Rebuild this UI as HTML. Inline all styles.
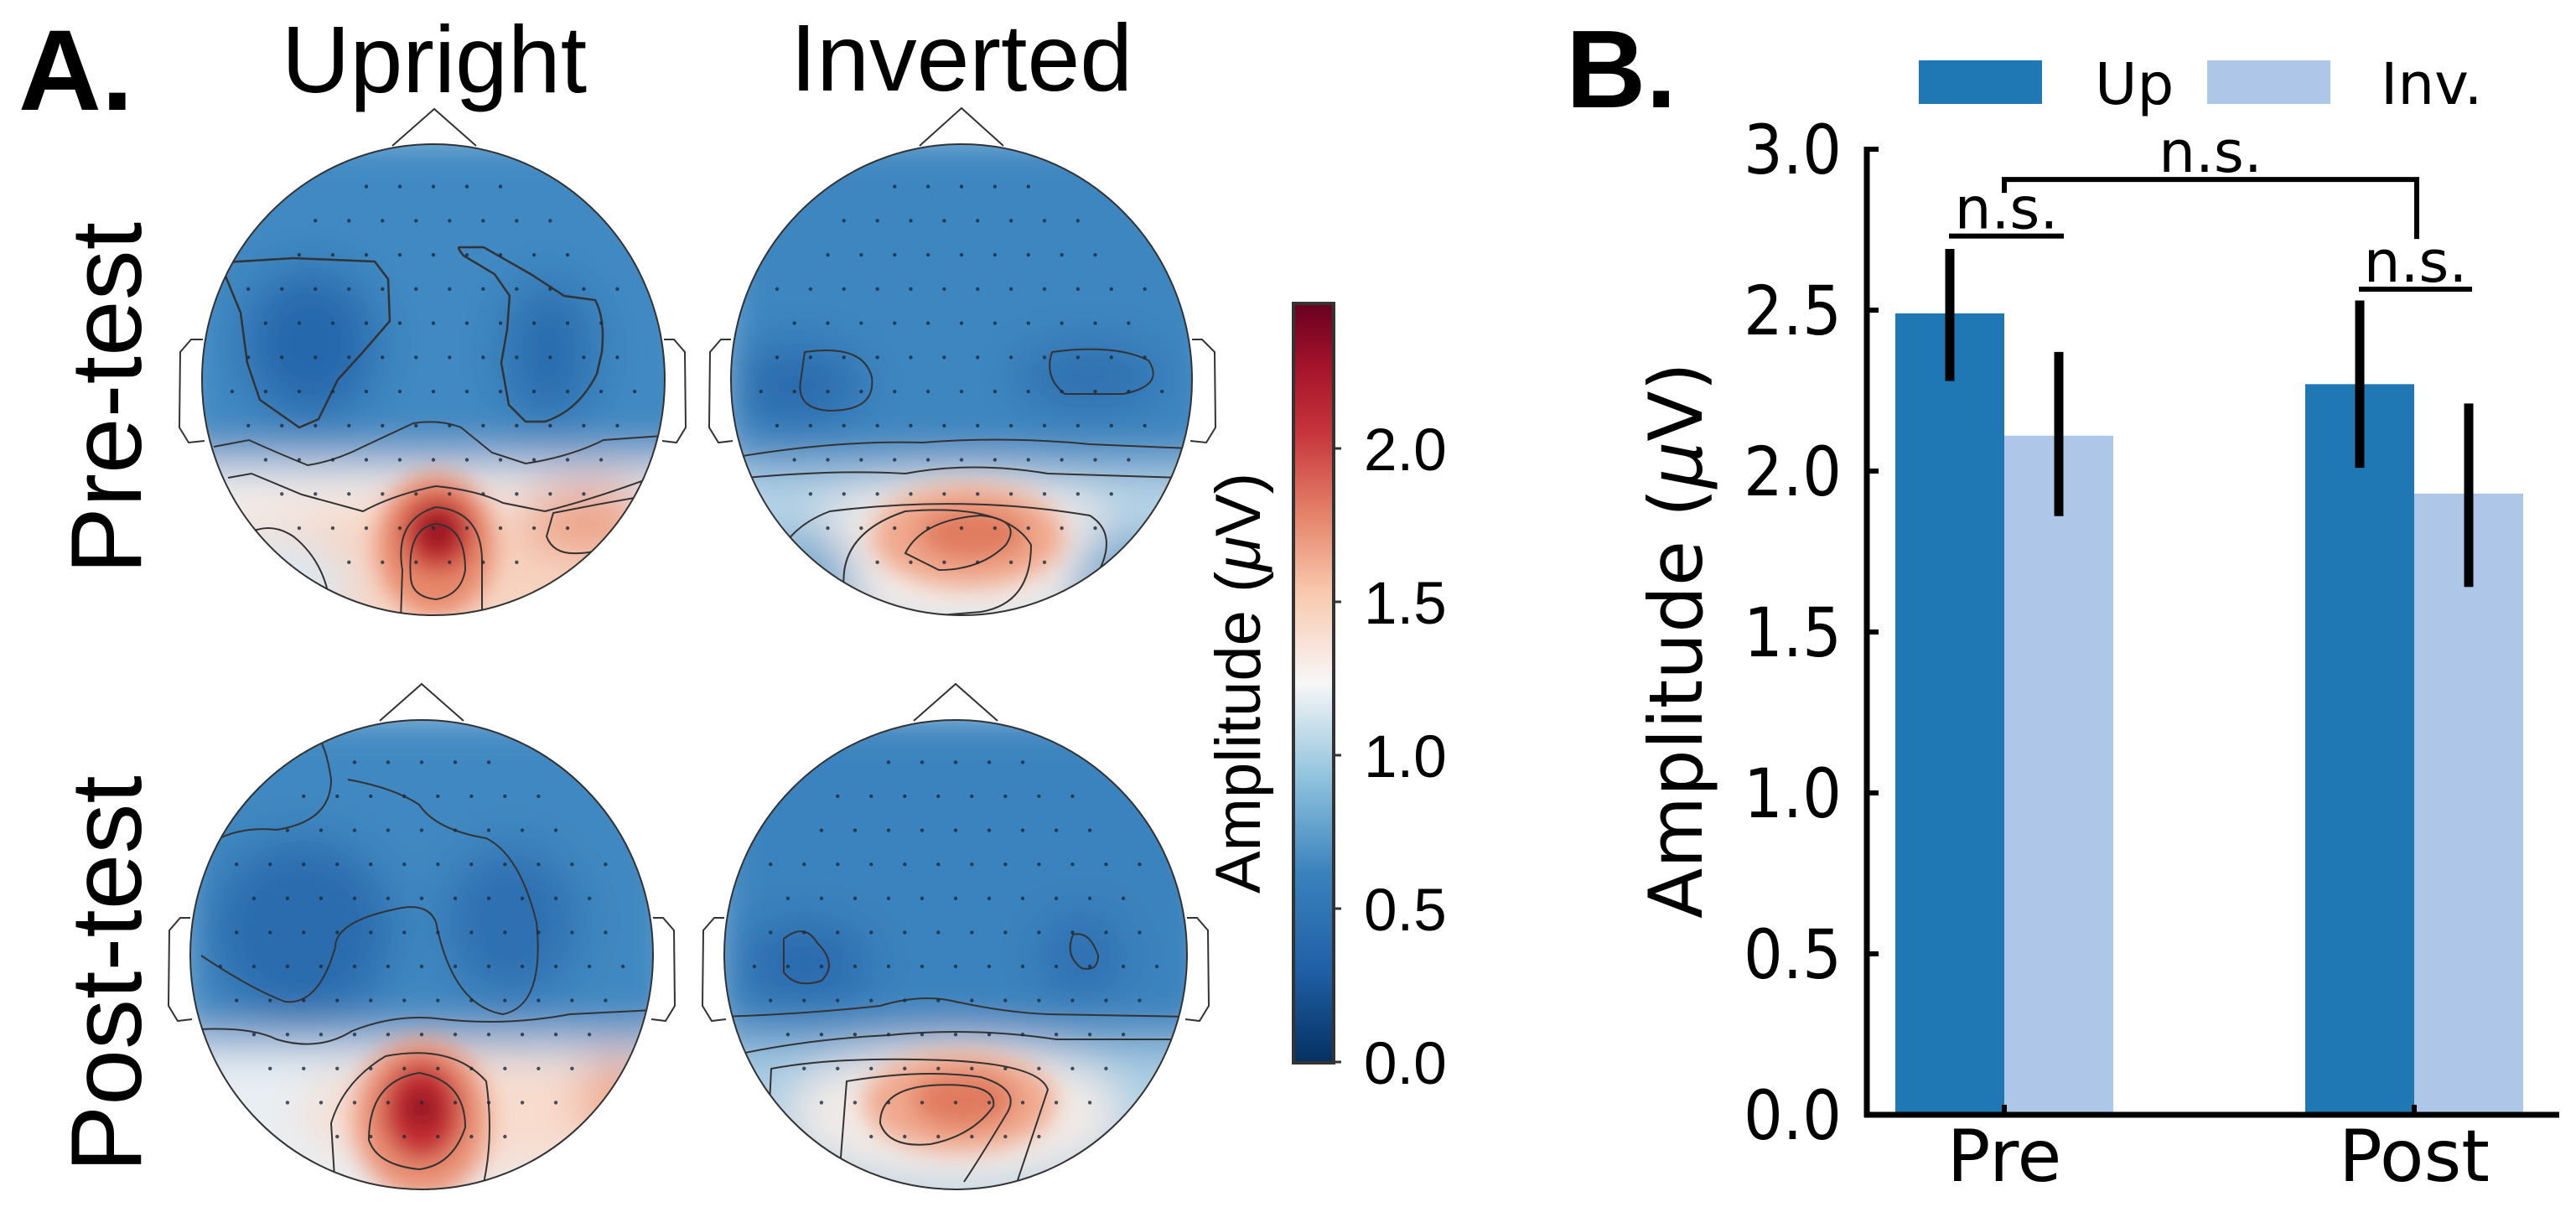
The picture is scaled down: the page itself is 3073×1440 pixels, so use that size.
<!DOCTYPE html>
<html><head><meta charset="utf-8"><style>
html,body{margin:0;padding:0;background:#fff;}
svg{display:block;}
text{font-family:"Liberation Sans",Arial,sans-serif;}
.dj{font-family:"DejaVu Sans","Liberation Sans",sans-serif;}
</style></head>
<body>
<svg id="fig" width="3073" height="1440" viewBox="0 0 3073 1440" xmlns="http://www.w3.org/2000/svg">
<defs>
  <filter id="blur" x="-20%" y="-20%" width="140%" height="140%"><feGaussianBlur stdDeviation="28"/></filter>
  <filter id="blurS" x="-20%" y="-20%" width="140%" height="140%"><feGaussianBlur stdDeviation="14"/></filter>
  <linearGradient id="cmap" x1="0" y1="1" x2="0" y2="0">
    <stop offset="0" stop-color="#053061"/>
    <stop offset="0.12" stop-color="#1f5fa5"/>
    <stop offset="0.25" stop-color="#3a82bd"/>
    <stop offset="0.37" stop-color="#8cc0dc"/>
    <stop offset="0.5" stop-color="#f7f7f7"/>
    <stop offset="0.62" stop-color="#f9c8ae"/>
    <stop offset="0.72" stop-color="#e5846a"/>
    <stop offset="0.83" stop-color="#c7343c"/>
    <stop offset="0.92" stop-color="#a3122a"/>
    <stop offset="1" stop-color="#67001f"/>
  </linearGradient>
  <clipPath id="c1"><ellipse cx="517" cy="453" rx="276" ry="281"/></clipPath>
  <clipPath id="c2"><ellipse cx="1147" cy="453" rx="275" ry="281"/></clipPath>
  <clipPath id="c3"><ellipse cx="503" cy="1139" rx="276" ry="280"/></clipPath>
  <clipPath id="c4"><ellipse cx="1140" cy="1139" rx="276" ry="280"/></clipPath>
</defs>

<!-- Panel A -->
<text x="22" y="131" font-size="137" font-weight="bold">A.</text>
<text x="518" y="110" font-size="113" text-anchor="middle">Upright</text>
<text x="1147" y="108" font-size="113" text-anchor="middle">Inverted</text>
<text transform="translate(168,475) rotate(-90)" font-size="120" text-anchor="middle">Pre-test</text>
<text transform="translate(168,1162) rotate(-90)" font-size="120" text-anchor="middle">Post-test</text>

<!-- Topomap 1: upright pre -->
<g>
  <g clip-path="url(#c1)">
    <g filter="url(#blur)">
      <rect x="200" y="150" width="650" height="620" fill="#4189c2"/>
      <ellipse cx="370" cy="410" rx="80" ry="90" fill="#2868ac"/>
      <ellipse cx="655" cy="420" rx="55" ry="85" fill="#2c6daf"/>
      <rect x="200" y="555" width="650" height="240" fill="#f4f1ef"/>
      <ellipse cx="520" cy="680" rx="330" ry="80" fill="#f7d3c0"/>
      <ellipse cx="700" cy="620" rx="80" ry="40" fill="#eb9d80"/>
      <ellipse cx="330" cy="700" rx="90" ry="60" fill="#dbe8f2"/>
    </g>
    <g filter="url(#blurS)">
      <ellipse cx="520" cy="650" rx="70" ry="85" fill="#e7886b"/>
      <ellipse cx="522" cy="636" rx="42" ry="45" fill="#c1272d"/>
      <ellipse cx="522" cy="633" rx="18" ry="18" fill="#7a0a1e"/>
    </g>
    <path d="M268,313 L350,308 L447,312 L463,333 L465,383 L433,420 L403,453 L380,500 L357,510 L310,477 L295,433 L287,373 L268,327" fill="none" stroke="#333" stroke-width="2.5"/>
    <path d="M553,305 Q545,295 548,295 L577,295 L633,327 L673,353 L710,358 Q722,380 718,420 L712,446 Q690,490 650,503 L627,503 L607,483 L598,433 L605,393 L608,353 L590,327 Z" fill="none" stroke="#333" stroke-width="2.5"/>
    <path d="M255,533 L297,525 Q330,540 367,555 Q400,550 433,533 L493,505 Q525,500 550,510 L587,540 L627,553 Q680,545 720,525 L790,520" fill="none" stroke="#333" stroke-width="2"/>
    <path d="M272,570 L300,565 L360,590 L433,610 Q470,590 520,580 Q570,585 600,600 L650,610 Q710,595 790,565" fill="none" stroke="#333" stroke-width="2"/>
    <path d="M290,640 Q320,620 350,640 Q400,680 395,760" fill="none" stroke="#333" stroke-width="2"/>
    <path d="M478,740 L480,680 Q470,620 520,605 Q575,610 575,670 L575,740" fill="none" stroke="#333" stroke-width="2"/>
    <path d="M490,690 Q485,630 520,625 Q555,628 555,680 Q550,710 520,715 Q492,712 490,690Z" fill="none" stroke="#333" stroke-width="2"/>
    <path d="M652,640 L660,612 Q720,600 780,590 L770,630 Q720,660 690,660 Q660,662 652,640Z" fill="none" stroke="#333" stroke-width="2"/>
  </g>
  <ellipse cx="517" cy="453" rx="276" ry="281" fill="none" stroke="#333" stroke-width="2"/>
  <path d="M468,174 L518,130 L568,174" fill="none" stroke="#333" stroke-width="2"/>
  <path d="M242,405 L228,405 L215,420 L214,510 L225,528 L244,526" fill="none" stroke="#333" stroke-width="2"/>
  <path d="M792,405 L804,405 L817,420 L818,510 L807,528 L790,526" fill="none" stroke="#333" stroke-width="2"/>
</g>

<!-- Topomap 2: inverted pre -->
<g>
  <g clip-path="url(#c2)">
    <g filter="url(#blur)">
      <rect x="850" y="150" width="620" height="620" fill="#3d86c0"/>
      <ellipse cx="950" cy="460" rx="80" ry="50" fill="#2a6cae"/>
      <ellipse cx="1300" cy="450" rx="90" ry="40" fill="#2d6fb0"/>
      <rect x="850" y="560" width="620" height="240" fill="#b8d6e8"/>
      <ellipse cx="1150" cy="660" rx="200" ry="90" fill="#f4ece8"/>
      <ellipse cx="960" cy="700" rx="60" ry="70" fill="#6ea7d0"/>
      <ellipse cx="1340" cy="700" rx="60" ry="70" fill="#6ea7d0"/>
    </g>
    <g filter="url(#blurS)">
      <ellipse cx="1155" cy="640" rx="115" ry="62" fill="#f0a88c"/>
      <ellipse cx="1160" cy="637" rx="65" ry="32" fill="#e07a5f"/>
    </g>
    <path d="M880,545 Q1000,525 1100,528 Q1200,520 1300,530 L1420,535" fill="none" stroke="#333" stroke-width="2"/>
    <path d="M890,570 Q1000,560 1080,565 Q1160,550 1250,565 L1410,570" fill="none" stroke="#333" stroke-width="2"/>
    <path d="M920,730 Q910,640 990,610 Q1150,590 1300,615 Q1340,640 1300,700" fill="none" stroke="#333" stroke-width="2"/>
    <path d="M1010,720 Q990,640 1080,610 Q1200,600 1230,650 Q1230,720 1170,730 L1050,740" fill="none" stroke="#333" stroke-width="2"/>
    <path d="M1080,660 Q1100,620 1170,615 Q1220,620 1200,650 Q1170,680 1120,680 Z" fill="none" stroke="#333" stroke-width="2"/>
    <path d="M960,420 Q1030,410 1040,450 Q1045,490 990,490 Q950,488 955,455Z" fill="none" stroke="#333" stroke-width="2"/>
    <path d="M1255,420 Q1330,410 1370,430 Q1390,460 1340,470 L1270,470 Q1245,450 1255,420Z" fill="none" stroke="#333" stroke-width="2"/>
  </g>
  <ellipse cx="1147" cy="453" rx="275" ry="281" fill="none" stroke="#333" stroke-width="2"/>
  <path d="M1097,174 L1147,129 L1197,174" fill="none" stroke="#333" stroke-width="2"/>
  <path d="M872,405 L860,405 L847,420 L846,510 L857,528 L874,526" fill="none" stroke="#333" stroke-width="2"/>
  <path d="M1422,405 L1434,405 L1449,420 L1450,510 L1439,528 L1420,526" fill="none" stroke="#333" stroke-width="2"/>
</g>

<!-- Topomap 3: upright post -->
<g>
  <g clip-path="url(#c3)">
    <g filter="url(#blur)">
      <rect x="200" y="840" width="620" height="620" fill="#3f88c1"/>
      <ellipse cx="360" cy="1110" rx="110" ry="110" fill="#2a6cae"/>
      <ellipse cx="610" cy="1100" rx="80" ry="90" fill="#2e70b1"/>
      <rect x="200" y="1245" width="620" height="220" fill="#e8eef3"/>
      <ellipse cx="590" cy="1330" rx="230" ry="70" fill="#f8dccd"/>
      <ellipse cx="740" cy="1310" rx="50" ry="50" fill="#eea488"/>
    </g>
    <g filter="url(#blurS)">
      <ellipse cx="503" cy="1335" rx="80" ry="95" fill="#ea9276"/>
      <ellipse cx="503" cy="1325" rx="48" ry="60" fill="#c32a31"/>
      <ellipse cx="503" cy="1322" rx="18" ry="18" fill="#7a0a1e"/>
    </g>
    <path d="M240,1140 Q300,1180 340,1195 Q380,1200 400,1130 Q400,1100 470,1085 Q510,1075 520,1100 Q540,1200 600,1210 Q650,1200 640,1100 Q620,1020 580,1000 Q520,990 500,960 Q470,940 415,930" fill="none" stroke="#333" stroke-width="2"/>
    <path d="M245,1010 Q280,985 330,990 Q395,980 395,930 Q390,895 380,880" fill="none" stroke="#333" stroke-width="2"/>
    <path d="M240,1228 Q300,1225 330,1240 Q380,1255 420,1230 Q470,1210 520,1215 Q600,1225 680,1210 L780,1205" fill="none" stroke="#333" stroke-width="2"/>
    <path d="M400,1420 L395,1340 Q410,1290 460,1260 Q540,1245 580,1290 Q590,1360 575,1420" fill="none" stroke="#333" stroke-width="2"/>
    <path d="M440,1360 Q440,1290 500,1280 Q555,1290 555,1345 Q540,1390 500,1395 Q450,1390 440,1360Z" fill="none" stroke="#333" stroke-width="2"/>
  </g>
  <ellipse cx="503" cy="1139" rx="276" ry="280" fill="none" stroke="#333" stroke-width="2"/>
  <path d="M453,860 L503,816 L553,860" fill="none" stroke="#333" stroke-width="2"/>
  <path d="M227,1095 L215,1095 L202,1110 L201,1200 L212,1218 L229,1216" fill="none" stroke="#333" stroke-width="2"/>
  <path d="M779,1095 L791,1095 L804,1110 L805,1200 L794,1218 L777,1216" fill="none" stroke="#333" stroke-width="2"/>
</g>

<!-- Topomap 4: inverted post -->
<g>
  <g clip-path="url(#c4)">
    <g filter="url(#blur)">
      <rect x="840" y="840" width="620" height="620" fill="#3a83be"/>
      <ellipse cx="960" cy="1150" rx="80" ry="50" fill="#2a6aad"/>
      <ellipse cx="1290" cy="1140" rx="50" ry="50" fill="#2d6eb0"/>
      <rect x="840" y="1245" width="620" height="220" fill="#a9cde4"/>
      <ellipse cx="1140" cy="1330" rx="200" ry="85" fill="#f3ebe7"/>
    </g>
    <g filter="url(#blurS)">
      <ellipse cx="1145" cy="1315" rx="115" ry="60" fill="#f0a98d"/>
      <ellipse cx="1150" cy="1312" rx="62" ry="35" fill="#e07a5f"/>
    </g>
    <path d="M860,1213 Q960,1210 1050,1200 Q1100,1185 1140,1195 Q1200,1208 1250,1210 L1420,1213" fill="none" stroke="#333" stroke-width="2"/>
    <path d="M870,1260 Q960,1240 1060,1235 Q1160,1225 1260,1240 L1410,1240" fill="none" stroke="#333" stroke-width="2"/>
    <path d="M915,1380 L920,1275 Q1000,1260 1130,1265 Q1240,1270 1250,1300 Q1230,1360 1210,1420" fill="none" stroke="#333" stroke-width="2"/>
    <path d="M1000,1420 L1010,1290 Q1100,1275 1170,1285 Q1220,1300 1200,1330 Q1170,1380 1150,1410" fill="none" stroke="#333" stroke-width="2"/>
    <path d="M1050,1340 Q1050,1300 1110,1295 Q1190,1290 1185,1320 Q1160,1355 1110,1365 Q1060,1370 1050,1340Z" fill="none" stroke="#333" stroke-width="2"/>
    <path d="M935,1120 Q960,1100 975,1125 Q1000,1150 980,1170 Q950,1180 935,1160Z" fill="none" stroke="#333" stroke-width="2"/>
    <path d="M1280,1115 Q1300,1110 1310,1140 Q1310,1160 1290,1155 Q1270,1140 1280,1115Z" fill="none" stroke="#333" stroke-width="2"/>
  </g>
  <ellipse cx="1140" cy="1139" rx="276" ry="280" fill="none" stroke="#333" stroke-width="2"/>
  <path d="M1090,860 L1140,816 L1190,860" fill="none" stroke="#333" stroke-width="2"/>
  <path d="M864,1095 L852,1095 L839,1110 L838,1200 L849,1218 L866,1216" fill="none" stroke="#333" stroke-width="2"/>
  <path d="M1416,1095 L1428,1095 L1441,1110 L1442,1200 L1431,1218 L1414,1216" fill="none" stroke="#333" stroke-width="2"/>
</g>

<!-- Colorbar -->
<g>
  <rect x="1543" y="362" width="48" height="906" fill="url(#cmap)" stroke="#333" stroke-width="4"/>
  <g id="cbarTicks"></g>
  <text transform="translate(1503,815) rotate(-90)" font-size="76" text-anchor="middle">Amplitude (<tspan font-style="italic">μ</tspan>V)</text>
</g>

<!-- Panel B -->
<text x="1868" y="128" font-size="132" font-weight="bold">B.</text>
<g>
  <rect x="2289" y="72" width="147" height="52" fill="#1f77b4"/>
  <text x="2499" y="124" font-size="69" class="dj">Up</text>
  <rect x="2633" y="72" width="147" height="52" fill="#aec7e8"/>
  <text x="2840" y="124" font-size="69" class="dj">Inv.</text>
</g>
<g id="bars"></g>
<text transform="translate(2030,764) rotate(-90)" font-size="88" text-anchor="middle" class="dj">Amplitude (<tspan font-style="italic">μ</tspan>V)</text>
</svg>
<script>
const categories = ['Pre', 'Post'];
const upValues = [2.49, 2.27];
const invValues = [2.11, 1.93];
const upErrLow = [2.28, 2.01];
const upErrHigh = [2.69, 2.53];
const invErrLow = [1.86, 1.64];
const invErrHigh = [2.37, 2.21];
const yTicks = [0, 0.5, 1.0, 1.5, 2.0, 2.5, 3.0];
const yTickLabels = ['0.0', '0.5', '1.0', '1.5', '2.0', '2.5', '3.0'];
const bracketLevels = [2.73, 2.565, 2.906];
const cbarTicks = [0, 0.5, 1.0, 1.5, 2.0];
const cbarTickLabels = ['0.0', '0.5', '1.0', '1.5', '2.0'];

const NS = 'http://www.w3.org/2000/svg';
function mk(tag, attrs, parent){const e=document.createElementNS(NS,tag);for(const k in attrs)e.setAttribute(k,attrs[k]);parent.appendChild(e);return e;}
const x0 = 2227, y0 = 1330, pxPerUnit = 384;
function yScale(v){return y0 - v*pxPerUnit;}
function xCat(i){return 2391 + i*489;}
const barW = 130;
const g = document.getElementById('bars');

categories.forEach((c,i)=>{
  const cx = xCat(i);
  const b1 = mk('rect',{x:cx-barW,y:yScale(upValues[i]),width:barW,height:yScale(0)-yScale(upValues[i]),fill:'#1f77b4'},g);
  
  
  const b2 = mk('rect',{x:cx,y:yScale(invValues[i]),width:barW,height:yScale(0)-yScale(invValues[i]),fill:'#aec7e8'},g);
  
  
  const e1 = mk('line',{x1:cx-barW/2,x2:cx-barW/2,y1:yScale(upErrLow[i]),y2:yScale(upErrHigh[i]),stroke:'#000','stroke-width':11},g);
  
  
  const e2 = mk('line',{x1:cx+barW/2,x2:cx+barW/2,y1:yScale(invErrLow[i]),y2:yScale(invErrHigh[i]),stroke:'#000','stroke-width':11},g);
  
  
  const t = mk('text',{x:cx,y:1409,'font-size':86,'text-anchor':'middle',class:'dj'},g);
  t.textContent = c;
  
  
  const tk = mk('line',{x1:cx,x2:cx,y1:y0,y2:y0-12,stroke:'#000','stroke-width':6},g);
  
  
});

const yax = mk('line',{x1:x0,x2:x0,y1:yScale(3.0)-3,y2:y0+3,stroke:'#000','stroke-width':7},g);


const xax = mk('line',{x1:x0-3,x2:3053,y1:y0,y2:y0,stroke:'#000','stroke-width':7},g);



yTicks.forEach((v,i)=>{
  const tk = mk('line',{x1:x0,x2:x0+14,y1:yScale(v),y2:yScale(v),stroke:'#000','stroke-width':6},g);
  
  
  const t = mk('text',{x:2080,y:yScale(v)+29,'font-size':81,textLength:117,lengthAdjust:'spacingAndGlyphs',class:'dj'},g);
  t.textContent = yTickLabels[i];
  
  
});

// significance brackets
function bracket(xa, xb, lvl, legA, legB, name){
  const y = yScale(lvl);
  const p = mk('path',{d:`M${xa},${y+legA} L${xa},${y} L${xb},${y} L${xb},${y+legB}`,fill:'none',stroke:'#000','stroke-width':6},g);
  
  
  const t = mk('text',{x:(xa+xb)/2,y:y-9,'font-size':69,'text-anchor':'middle',class:'dj'},g);
  t.textContent = 'n.s.';
  
  
}
bracket(xCat(0)-66, xCat(0)+71, bracketLevels[0], 0, 0, 'sig-bracket-pre');
bracket(xCat(1)-66, xCat(1)+69, bracketLevels[1], 0, 0, 'sig-bracket-post');
bracket(xCat(0), xCat(1)+3, bracketLevels[2], 16, 71, 'sig-bracket-pre-post');

// colorbar ticks
const cg = document.getElementById('cbarTicks');
const cb0 = 1267, cbPx = 366;
cbarTicks.forEach((v,i)=>{
  const y = cb0 - v*cbPx;
  const tk = mk('line',{x1:1591,x2:1600,y1:y,y2:y,stroke:'#333','stroke-width':3},cg);
  
  
  const t = mk('text',{x:1627,y:y+26,'font-size':71},cg);
  t.textContent = cbarTickLabels[i];
  
  
});

// electrode dots
const heads = [[517,453,276,281],[1147,453,275,281],[503,1139,276,280],[1140,1139,276,280]];
const fig = document.getElementById('fig');
heads.forEach((h,hi)=>{
  let d='';
  for(let r=0;r<12;r++){
    const yy = h[1]-h[3]*0.82 + r*h[3]*0.145;
    const n = 13;
    for(let k=0;k<n;k++){
      const xx = h[0] + (k-(n-1)/2)*h[2]*0.145 + (r%2?h[2]*0.07:0);
      const dx=(xx-h[0])/h[2], dy=(yy-h[1])/h[3];
      if(dx*dx+dy*dy<0.8) d+=`M${xx-2.2},${yy}a2.2,2.2 0 1,0 4.4,0a2.2,2.2 0 1,0 -4.4,0`;
    }
  }
  const p = mk('path',{d:d,fill:'#1a2a3a','fill-opacity':0.8},fig);
  
  
});
</script>
</body></html>
